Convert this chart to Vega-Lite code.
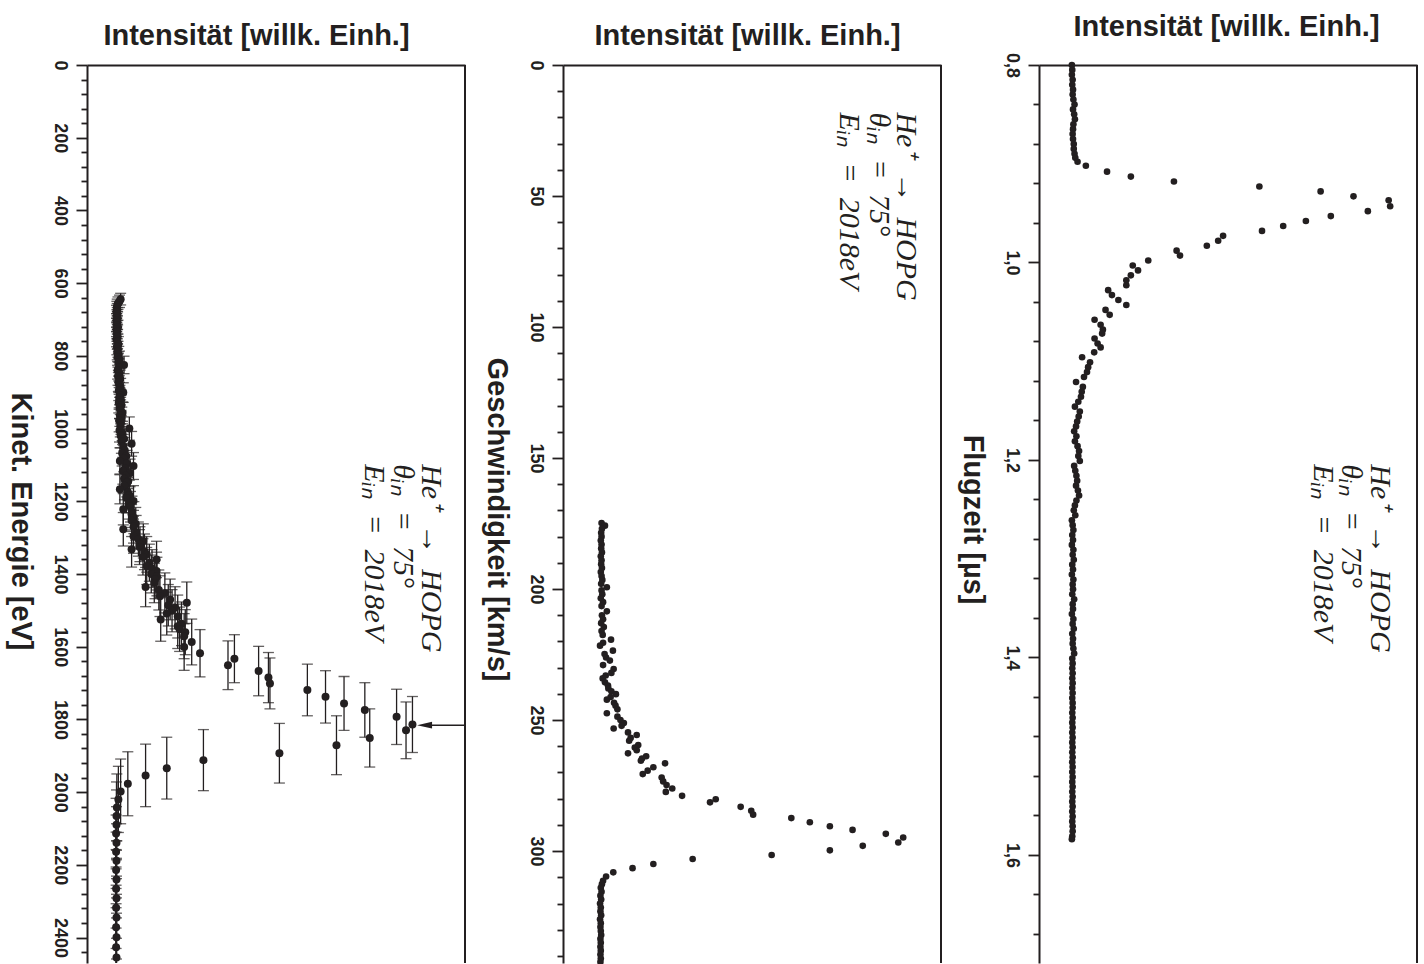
{
"$schema": "https://vega.github.io/schema/vega-lite/v6.json",
"background": "white",
"padding": {"left": 5, "top": 12, "right": 0, "bottom": 0},
"bounds": "flush",
"spacing": 98,
"config": {
  "view": {"stroke": null},
  "axis": {"labelColor": "#231f20", "titleColor": "#231f20", "tickColor": "#231f20", "domainColor": "#231f20", "labelFont": "Liberation Sans", "titleFont": "Liberation Sans", "labelFontWeight": "bold", "titleFontWeight": "bold", "grid": false, "domainWidth": 2, "tickWidth": 1.8, "labelFontSize": 18, "titleFontSize": 29, "minExtent": 0}
},
"datasets": {
  "energy": [
    {"E":644,"i":8.9,"d":16},{"E":650,"i":8.6,"d":17},{"E":655,"i":8.2,"d":17},{"E":661,"i":8.0,"d":17},{"E":667,"i":7.9,"d":17},{"E":673,"i":8.0,"d":17},{"E":679,"i":7.8,"d":18},{"E":685,"i":8.0,"d":18},{"E":691,"i":7.9,"d":18},{"E":697,"i":8.1,"d":18},
    {"E":703,"i":7.8,"d":19},{"E":709,"i":8.0,"d":19},{"E":715,"i":7.9,"d":19},{"E":721,"i":8.2,"d":19},{"E":727,"i":7.8,"d":20},{"E":733,"i":8.0,"d":20},{"E":740,"i":7.9,"d":20},{"E":747,"i":8.1,"d":20},{"E":754,"i":7.8,"d":21},{"E":761,"i":8.0,"d":21},
    {"E":768,"i":8.3,"d":21},{"E":775,"i":7.9,"d":22},{"E":782,"i":8.2,"d":22},{"E":789,"i":8.0,"d":22},{"E":796,"i":8.4,"d":22},{"E":803,"i":8.1,"d":23},{"E":810,"i":8.6,"d":23},{"E":817,"i":8.3,"d":23},{"E":825,"i":9.8,"d":24},{"E":832,"i":8.4,"d":24},
    {"E":840,"i":8.1,"d":24},{"E":848,"i":8.6,"d":25},{"E":856,"i":8.2,"d":25},{"E":864,"i":8.8,"d":25},{"E":872,"i":8.3,"d":26},{"E":880,"i":8.5,"d":26},{"E":888,"i":8.9,"d":26},{"E":896,"i":8.4,"d":27},{"E":901,"i":9.6,"d":27},{"E":908,"i":8.7,"d":27},
    {"E":915,"i":8.5,"d":28},{"E":922,"i":9.0,"d":28},{"E":929,"i":8.4,"d":28},{"E":936,"i":9.1,"d":29},{"E":943,"i":8.6,"d":29},{"E":950,"i":8.9,"d":29},{"E":957,"i":9.4,"d":30},{"E":964,"i":8.7,"d":30},{"E":971,"i":9.2,"d":30},{"E":978,"i":8.5,"d":31},
    {"E":985,"i":9.0,"d":31},{"E":992,"i":8.8,"d":31},{"E":1000,"i":11.2,"d":32},{"E":1005,"i":8.6,"d":32},{"E":1012,"i":9.4,"d":32},{"E":1020,"i":8.9,"d":33},{"E":1028,"i":9.8,"d":33},{"E":1035,"i":9.1,"d":33},{"E":1042,"i":11.8,"d":34},{"E":1050,"i":9.6,"d":34},
    {"E":1060,"i":10.0,"d":35},{"E":1068,"i":9.3,"d":35},{"E":1076,"i":10.4,"d":35},{"E":1083,"i":9.7,"d":36},{"E":1089,"i":8.7,"d":36},{"E":1096,"i":10.6,"d":36},{"E":1103,"i":12.3,"d":37},{"E":1110,"i":10.1,"d":37},{"E":1116,"i":9.5,"d":37},{"E":1122,"i":11.4,"d":38},
    {"E":1130,"i":10.2,"d":38},{"E":1138,"i":9.8,"d":38},{"E":1145,"i":10.9,"d":39},{"E":1149,"i":10.5,"d":39},{"E":1157,"i":9.9,"d":39},{"E":1167,"i":8.7,"d":40},{"E":1175,"i":10.8,"d":40},{"E":1183,"i":11.2,"d":41},{"E":1191,"i":10.4,"d":41},{"E":1199,"i":12.3,"d":42},
    {"E":1207,"i":11.0,"d":42},{"E":1215,"i":11.5,"d":42},{"E":1222,"i":9.6,"d":43},{"E":1229,"i":11.9,"d":43},{"E":1236,"i":11.8,"d":43},{"E":1245,"i":12.4,"d":44},{"E":1253,"i":11.8,"d":44},{"E":1262,"i":12.9,"d":45},{"E":1270,"i":12.3,"d":45},{"E":1277,"i":9.6,"d":46},
    {"E":1285,"i":13.0,"d":46},{"E":1296,"i":12.3,"d":47},{"E":1304,"i":13.6,"d":47},{"E":1309,"i":14.9,"d":47},{"E":1318,"i":14.0,"d":48},{"E":1326,"i":13.9,"d":48},{"E":1332,"i":11.8,"d":49},{"E":1339,"i":15.2,"d":49},{"E":1346,"i":15.8,"d":49},{"E":1353,"i":14.8,"d":50},
    {"E":1360,"i":18.4,"d":50},{"E":1369,"i":16.5,"d":51},{"E":1378,"i":15.8,"d":51},{"E":1385,"i":17.2,"d":52},{"E":1392,"i":18.4,"d":52},{"E":1400,"i":17.0,"d":52},{"E":1407,"i":18.5,"d":53},{"E":1415,"i":18.0,"d":53},{"E":1425,"i":17.8,"d":54},{"E":1436,"i":15.5,"d":54},
    {"E":1444,"i":19.0,"d":55},{"E":1452,"i":20.6,"d":55},{"E":1461,"i":19.3,"d":56},{"E":1470,"i":22.0,"d":56},{"E":1479,"i":26.4,"d":57},{"E":1486,"i":21.5,"d":57},{"E":1493,"i":23.3,"d":58},{"E":1501,"i":22.5,"d":58},{"E":1509,"i":21.1,"d":59},{"E":1517,"i":24.0,"d":59},
    {"E":1525,"i":19.5,"d":60},{"E":1537,"i":25.0,"d":60},{"E":1544,"i":24.0,"d":61},{"E":1552,"i":24.5,"d":61},{"E":1560,"i":26.0,"d":62},{"E":1571,"i":25.7,"d":62},{"E":1587,"i":27.7,"d":63},{"E":1601,"i":25.7,"d":64},{"E":1618,"i":29.9,"d":65},{"E":1633,"i":39.0,"d":66},
    {"E":1651,"i":37.3,"d":67},{"E":1667,"i":45.4,"d":68},{"E":1685,"i":48.0,"d":69},{"E":1701,"i":48.4,"d":70},{"E":1719,"i":58.3,"d":71},{"E":1738,"i":63.1,"d":72},{"E":1756,"i":68.0,"d":74},{"E":1774,"i":73.5,"d":75},{"E":1793,"i":81.9,"d":76},{"E":1814,"i":86.1,"d":77},
    {"E":1830,"i":84.4,"d":78},{"E":1851,"i":74.8,"d":80},{"E":1871,"i":66.0,"d":81},{"E":1893,"i":50.9,"d":82},{"E":1912,"i":30.8,"d":84},{"E":1934,"i":21.1,"d":85},{"E":1954,"i":15.5,"d":86},{"E":1977,"i":10.8,"d":88},{"E":1998,"i":8.9,"d":89},{"E":2020,"i":8.3,"d":91},
    {"E":2042,"i":7.9,"d":92},{"E":2066,"i":7.8,"d":94},{"E":2090,"i":7.8,"d":96},{"E":2114,"i":7.7,"d":97},{"E":2139,"i":7.8,"d":99},{"E":2164,"i":7.7,"d":101},{"E":2189,"i":7.8,"d":102},{"E":2214,"i":7.7,"d":104},{"E":2240,"i":7.8,"d":106},{"E":2266,"i":7.7,"d":108},
    {"E":2292,"i":7.8,"d":110},{"E":2318,"i":7.7,"d":112},{"E":2345,"i":7.8,"d":114},{"E":2372,"i":7.7,"d":116},{"E":2399,"i":7.8,"d":118},{"E":2427,"i":7.7,"d":120},{"E":2455,"i":7.8,"d":122}
  ],
  "velocity": [
    {"v":174.8,"i":10.2},{"v":175.8,"i":11.1},{"v":177,"i":10.3},{"v":178.5,"i":10.1},{"v":180,"i":10.2},{"v":181.5,"i":10.0},{"v":183,"i":10.2},{"v":184.5,"i":10.1},{"v":186,"i":10.3},{"v":187.5,"i":10.0},
    {"v":189,"i":10.2},{"v":190.5,"i":10.1},{"v":192,"i":10.3},{"v":193.5,"i":10.0},{"v":195,"i":10.2},{"v":196.5,"i":10.4},{"v":198,"i":10.1},{"v":199.3,"i":11.6},{"v":200.5,"i":10.2},{"v":202,"i":10.4},
    {"v":203.5,"i":10.0},{"v":205,"i":10.6},{"v":206.5,"i":10.2},{"v":208.5,"i":11.6},{"v":210,"i":10.3},{"v":211.5,"i":10.6},{"v":213,"i":10.1},{"v":214.5,"i":10.8},{"v":216,"i":10.2},{"v":217.5,"i":10.5},
    {"v":219.3,"i":12.7},{"v":220.5,"i":10.6},{"v":221.6,"i":9.8},{"v":223.5,"i":13.2},{"v":224.8,"i":11.0},{"v":226.1,"i":11.4},{"v":227.3,"i":12.4},{"v":229,"i":10.6},{"v":230.5,"i":13.4},{"v":232,"i":12.8},
    {"v":233,"i":11.3},{"v":234.1,"i":10.5},{"v":235.6,"i":11.1},{"v":236.8,"i":11.9},{"v":237.9,"i":12.0},{"v":239,"i":12.8},{"v":240.1,"i":14.0},{"v":241.2,"i":12.6},{"v":242.2,"i":11.6},{"v":243.4,"i":13.5},
    {"v":244.5,"i":13.9},{"v":245.9,"i":14.4},{"v":247.4,"i":11.6},{"v":248.7,"i":14.4},{"v":250,"i":15.2},{"v":251.1,"i":16.1},{"v":252.2,"i":15.5},{"v":253.2,"i":13.4},{"v":254.7,"i":17.2},{"v":255.7,"i":19.5},
    {"v":256.8,"i":17.9},{"v":257.9,"i":17.5},{"v":259.5,"i":19.9},{"v":260.5,"i":19.0},{"v":261.5,"i":19.5},{"v":262.7,"i":17.2},{"v":263.8,"i":22.0},{"v":264.7,"i":20.9},{"v":265.5,"i":20.6},{"v":266.5,"i":27.0},
    {"v":268,"i":23.9},{"v":269.3,"i":22.4},{"v":270.6,"i":21.1},{"v":271.9,"i":26.1},{"v":273.4,"i":26.5},{"v":274.8,"i":27.4},{"v":276.1,"i":28.9},{"v":277.4,"i":27.2},{"v":278.9,"i":31.5},{"v":280.2,"i":40.4},
    {"v":281.4,"i":38.9},{"v":283.1,"i":47.0},{"v":284.6,"i":49.8},{"v":286.1,"i":50.3},{"v":287.4,"i":60.4},{"v":289,"i":65.3},{"v":290.5,"i":70.6},{"v":291.9,"i":76.6},{"v":293.4,"i":85.4},{"v":294.8,"i":90.0},
    {"v":296.7,"i":88.7},{"v":298,"i":79.3},{"v":299.7,"i":70.6},{"v":301.5,"i":55.2},{"v":303,"i":34.3},{"v":304.9,"i":23.9},{"v":306.5,"i":18.4},{"v":308.1,"i":13.3},{"v":309.7,"i":11.4},{"v":311.3,"i":10.6},
    {"v":312.6,"i":10.3},{"v":314,"i":10.0},{"v":315.5,"i":10.2},{"v":317,"i":9.9},{"v":318.5,"i":10.1},{"v":320,"i":9.8},{"v":321.5,"i":10.0},{"v":323,"i":9.9},{"v":324.5,"i":10.1},{"v":326,"i":9.8},
    {"v":327.5,"i":10.0},{"v":329,"i":9.9},{"v":330.5,"i":10.0},{"v":332,"i":10.1},{"v":333.5,"i":9.9},{"v":335,"i":10.0},{"v":336.5,"i":9.9},{"v":338,"i":10.0},{"v":339.5,"i":9.9},{"v":341,"i":10.0},{"v":342.3,"i":9.9}
  ],
  "tof": [
    {"t":0.800,"i":8.7},{"t":0.805,"i":8.8},{"t":0.810,"i":8.7},{"t":0.815,"i":8.9},{"t":0.820,"i":8.8},{"t":0.825,"i":9.0},{"t":0.830,"i":8.9},{"t":0.835,"i":9.1},{"t":0.840,"i":9.4},{"t":0.845,"i":9.0},
    {"t":0.850,"i":9.3},{"t":0.855,"i":9.5},{"t":0.860,"i":9.1},{"t":0.865,"i":9.0},{"t":0.870,"i":8.9},{"t":0.875,"i":9.0},{"t":0.880,"i":9.2},{"t":0.885,"i":9.2},{"t":0.890,"i":9.4},{"t":0.894,"i":9.6},
    {"t":0.898,"i":10.2},{"t":0.902,"i":12.4},{"t":0.908,"i":18.0},{"t":0.913,"i":24.3},{"t":0.918,"i":35.7},{"t":0.923,"i":58.3},{"t":0.928,"i":74.5},{"t":0.933,"i":83.2},{"t":0.937,"i":92.5},{"t":0.943,"i":92.9},
    {"t":0.948,"i":87.0},{"t":0.953,"i":77.2},{"t":0.958,"i":70.6},{"t":0.963,"i":64.6},{"t":0.968,"i":59.0},{"t":0.973,"i":48.7},{"t":0.978,"i":47.4},{"t":0.983,"i":44.4},{"t":0.988,"i":36.4},{"t":0.993,"i":37.3},
    {"t":0.998,"i":28.9},{"t":1.003,"i":24.8},{"t":1.008,"i":26.2},{"t":1.013,"i":24.3},{"t":1.018,"i":23.1},{"t":1.023,"i":23.1},{"t":1.028,"i":18.3},{"t":1.033,"i":19.3},{"t":1.038,"i":21.0},{"t":1.043,"i":23.1},
    {"t":1.048,"i":17.6},{"t":1.053,"i":18.7},{"t":1.058,"i":14.7},{"t":1.063,"i":16.3},{"t":1.068,"i":16.9},{"t":1.072,"i":16.7},{"t":1.077,"i":14.7},{"t":1.082,"i":15.5},{"t":1.086,"i":16.3},{"t":1.091,"i":14.6},
    {"t":1.096,"i":11.4},{"t":1.101,"i":13.5},{"t":1.106,"i":13.0},{"t":1.111,"i":12.7},{"t":1.116,"i":11.9},{"t":1.121,"i":9.8},{"t":1.126,"i":11.6},{"t":1.131,"i":11.3},{"t":1.136,"i":11.1},{"t":1.141,"i":10.4},
    {"t":1.146,"i":9.5},{"t":1.151,"i":10.8},{"t":1.156,"i":10.5},{"t":1.161,"i":10.1},{"t":1.166,"i":9.8},{"t":1.171,"i":9.3},{"t":1.176,"i":9.9},{"t":1.181,"i":9.5},{"t":1.186,"i":10.2},{"t":1.191,"i":10.6},
    {"t":1.196,"i":10.4},{"t":1.201,"i":10.8},{"t":1.206,"i":9.3},{"t":1.211,"i":9.6},{"t":1.216,"i":9.9},{"t":1.221,"i":10.1},{"t":1.226,"i":9.8},{"t":1.231,"i":10.3},{"t":1.236,"i":10.6},{"t":1.241,"i":9.9},
    {"t":1.246,"i":9.5},{"t":1.251,"i":9.2},{"t":1.256,"i":9.6},{"t":1.261,"i":8.7},{"t":1.266,"i":8.9},{"t":1.271,"i":9.1},{"t":1.276,"i":8.8},{"t":1.281,"i":9.0},{"t":1.286,"i":8.7},{"t":1.291,"i":9.1},
    {"t":1.296,"i":8.9},{"t":1.301,"i":9.2},{"t":1.306,"i":8.8},{"t":1.311,"i":9.0},{"t":1.316,"i":8.7},{"t":1.321,"i":9.1},{"t":1.326,"i":8.9},{"t":1.331,"i":9.0},{"t":1.336,"i":8.8},{"t":1.341,"i":9.3},
    {"t":1.346,"i":8.9},{"t":1.351,"i":9.0},{"t":1.356,"i":8.7},{"t":1.361,"i":9.1},{"t":1.366,"i":8.9},{"t":1.371,"i":9.2},{"t":1.376,"i":8.8},{"t":1.381,"i":9.0},{"t":1.386,"i":8.9},{"t":1.391,"i":9.1},
    {"t":1.396,"i":9.3},{"t":1.401,"i":8.8},{"t":1.406,"i":8.9},{"t":1.411,"i":8.8},{"t":1.416,"i":8.9},{"t":1.421,"i":8.8},{"t":1.426,"i":8.9},{"t":1.431,"i":8.8},{"t":1.436,"i":8.9},{"t":1.441,"i":8.8},
    {"t":1.446,"i":8.9},{"t":1.451,"i":8.9},{"t":1.456,"i":8.8},{"t":1.461,"i":8.9},{"t":1.466,"i":8.8},{"t":1.471,"i":8.9},{"t":1.476,"i":8.8},{"t":1.481,"i":8.9},{"t":1.486,"i":8.8},{"t":1.491,"i":8.9},
    {"t":1.496,"i":8.8},{"t":1.501,"i":8.9},{"t":1.506,"i":8.8},{"t":1.511,"i":8.9},{"t":1.516,"i":8.8},{"t":1.521,"i":8.9},{"t":1.526,"i":8.8},{"t":1.531,"i":8.9},{"t":1.536,"i":8.8},{"t":1.541,"i":8.9},
    {"t":1.546,"i":8.8},{"t":1.551,"i":8.9},{"t":1.556,"i":8.8},{"t":1.561,"i":8.9},{"t":1.566,"i":8.8},{"t":1.571,"i":8.9},{"t":1.576,"i":8.9},{"t":1.581,"i":8.8},{"t":1.584,"i":8.7}
  ]
},
"hconcat": [
  {
    "width": 378, "height": 898,
    "encoding": {
      "x": {"field": "i", "type": "quantitative", "scale": {"domain": [0, 100], "nice": false, "zero": false},
        "axis": {"orient": "top", "labels": false, "ticks": false, "domain": true, "title": "Intensität [willk. Einh.]", "titleX": 169, "titleY": -15, "titleBaseline": "bottom", "titleAlign": "center"}},
      "y": {"field": "E", "type": "quantitative", "scale": {"domain": [0, 2470], "nice": false, "zero": false, "reverse": true},
        "axis": {"orient": "left", "values": [0,40,80,120,160,200,240,280,320,360,400,440,480,520,560,600,640,680,720,760,800,840,880,920,960,1000,1040,1080,1120,1160,1200,1240,1280,1320,1360,1400,1440,1480,1520,1560,1600,1640,1680,1720,1760,1800,1840,1880,1920,1960,2000,2040,2080,2120,2160,2200,2240,2280,2320,2360,2400,2440],
          "format": "d", "labelExpr": "datum.value % 200 === 0 ? datum.label : ''", "labelAngle": 90, "labelAlign": "center", "labelBaseline": "top", "labelPadding": 8, "labelOverlap": false, "labelFlush": false,
          "tickSize": {"condition": {"test": "datum.value % 200 === 0", "value": 11}, "value": 6},
          "title": "Kinet. Energie [eV]", "titleAngle": 90, "titleBaseline": "top", "titleAlign": "center", "titleX": -53, "titleY": 456}}
    },
    "layer": [
      {"data": {"name": "energy"}, "mark": {"type": "errorbar", "ticks": {"size": 11}, "thickness": 1.3, "color": "#231f20", "clip": true}, "encoding": {"yError": {"field": "d"}}},
      {"data": {"name": "energy"}, "mark": {"type": "circle", "size": 64, "color": "#231f20", "opacity": 1}},
      {"data": {"values": [{"i": 89.3, "i2": 100, "E": 1816}]}, "mark": {"type": "rule", "strokeWidth": 1.3, "color": "#231f20"}, "encoding": {"x2": {"field": "i2"}}},
      {"data": {"values": [{"i": 89.3, "E": 1816}]}, "mark": {"type": "point", "shape": "M -1 0 L 1 -0.45 L 1 0.45 Z", "size": 225, "filled": true, "color": "#231f20", "opacity": 1}},
      {"data": {"values": [{"i": 100, "E": 0, "E2": 2470}]}, "mark": {"type": "rule", "strokeWidth": 2, "color": "#231f20"}, "encoding": {"y2": {"field": "E2"}}},
      {"data": {"values": [{"i": 88.6, "E": 1098, "txt": "He⁺\u2002→\u2002HOPG"}, {"i": 81.1, "E": 1098, "txt": "θᵢₙ\u2002=\u200275°"}, {"i": 73.5, "E": 1098, "txt": "Eᵢₙ\u2002=\u20022018eV"}]},
       "mark": {"type": "text", "angle": 90, "align": "left", "baseline": "alphabetic", "font": "Liberation Serif", "fontStyle": "italic", "fontSize": 30, "color": "#231f20"},
       "encoding": {"text": {"field": "txt"}}}
    ]
  },
  {
    "width": 378, "height": 898,
    "encoding": {
      "x": {"field": "i", "type": "quantitative", "scale": {"domain": [0, 100], "nice": false, "zero": false},
        "axis": {"orient": "top", "labels": false, "ticks": false, "domain": true, "title": "Intensität [willk. Einh.]", "titleX": 184, "titleY": -15, "titleBaseline": "bottom", "titleAlign": "center"}},
      "y": {"field": "v", "type": "quantitative", "scale": {"domain": [0, 342.7], "nice": false, "zero": false, "reverse": true},
        "axis": {"orient": "left", "values": [0,10,20,30,40,50,60,70,80,90,100,110,120,130,140,150,160,170,180,190,200,210,220,230,240,250,260,270,280,290,300,310,320,330,340],
          "format": "d", "labelExpr": "datum.value % 50 === 0 ? datum.label : ''", "labelAngle": 90, "labelAlign": "center", "labelBaseline": "top", "labelPadding": 8, "labelOverlap": false, "labelFlush": false,
          "tickSize": {"condition": {"test": "datum.value % 50 === 0", "value": 11}, "value": 6},
          "title": "Geschwindigkeit [km/s]", "titleAngle": 90, "titleBaseline": "top", "titleAlign": "center", "titleX": -53, "titleY": 454}}
    },
    "layer": [
      {"data": {"name": "velocity"}, "mark": {"type": "circle", "size": 44, "color": "#231f20", "opacity": 1}},
      {"data": {"values": [{"i": 100, "v": 0, "v2": 342.7}]}, "mark": {"type": "rule", "strokeWidth": 2, "color": "#231f20"}, "encoding": {"y2": {"field": "v2"}}},
      {"data": {"values": [{"i": 88.4, "v": 18.1, "txt": "He⁺\u2002→\u2002HOPG"}, {"i": 81.2, "v": 18.1, "txt": "θᵢₙ\u2002=\u200275°"}, {"i": 73.3, "v": 18.1, "txt": "Eᵢₙ\u2002=\u20022018eV"}]},
       "mark": {"type": "text", "angle": 90, "align": "left", "baseline": "alphabetic", "font": "Liberation Serif", "fontStyle": "italic", "fontSize": 30, "color": "#231f20"},
       "encoding": {"text": {"field": "txt"}}}
    ]
  },
  {
    "width": 378, "height": 898,
    "encoding": {
      "x": {"field": "i", "type": "quantitative", "scale": {"domain": [0, 100], "nice": false, "zero": false},
        "axis": {"orient": "top", "labels": false, "ticks": false, "domain": true, "title": "Intensität [willk. Einh.]", "titleX": 187, "titleY": -24, "titleBaseline": "bottom", "titleAlign": "center"}},
      "y": {"field": "t", "type": "quantitative", "scale": {"domain": [0.8, 1.7094], "nice": false, "zero": false, "reverse": true},
        "axis": {"orient": "left", "values": [0.8,0.84,0.88,0.92,0.96,1.0,1.04,1.08,1.12,1.16,1.2,1.24,1.28,1.32,1.36,1.4,1.44,1.48,1.52,1.56,1.6,1.64,1.68],
          "labelExpr": "round(datum.value*100) % 20 === 0 ? replace(format(datum.value, '.1f'), '.', ',') : ''", "labelAngle": 90, "labelAlign": "center", "labelBaseline": "top", "labelPadding": 8, "labelOverlap": false, "labelFlush": false,
          "tickSize": {"condition": {"test": "round(datum.value*100) % 20 === 0", "value": 11}, "value": 6},
          "title": "Flugzeit [µs]", "titleAngle": 90, "titleBaseline": "top", "titleAlign": "center", "titleX": -53, "titleY": 454}}
    },
    "layer": [
      {"data": {"name": "tof"}, "mark": {"type": "circle", "size": 44, "color": "#231f20", "opacity": 1}},
      {"data": {"values": [{"i": 100, "t": 0.8, "t2": 1.7094}]}, "mark": {"type": "rule", "strokeWidth": 2, "color": "#231f20"}, "encoding": {"y2": {"field": "t2"}}},
      {"data": {"values": [{"i": 87.8, "t": 1.2044, "txt": "He⁺\u2002→\u2002HOPG"}, {"i": 80.2, "t": 1.2044, "txt": "θᵢₙ\u2002=\u200275°"}, {"i": 72.8, "t": 1.2044, "txt": "Eᵢₙ\u2002=\u20022018eV"}]},
       "mark": {"type": "text", "angle": 90, "align": "left", "baseline": "alphabetic", "font": "Liberation Serif", "fontStyle": "italic", "fontSize": 30, "color": "#231f20"},
       "encoding": {"text": {"field": "txt"}}}
    ]
  }
]
}
